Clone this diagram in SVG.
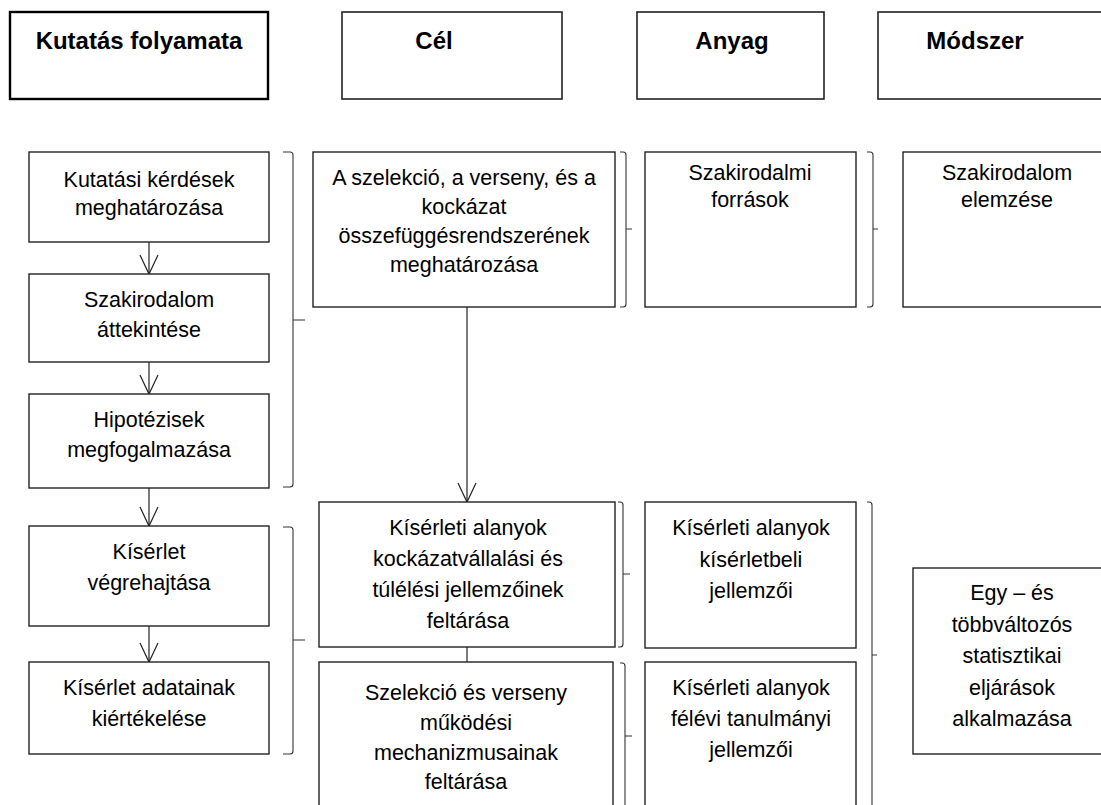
<svg xmlns="http://www.w3.org/2000/svg" width="1101" height="805" viewBox="0 0 1101 805">
<defs>
<style>
.hdr{fill:#fff;stroke:#222;stroke-width:1.6}
.hdr1{fill:#fff;stroke:#000;stroke-width:2.4}
.box{fill:#fff;stroke:#222;stroke-width:1.4}
.ht{font-family:"Liberation Sans",Arial,sans-serif;font-weight:bold;font-size:24px;fill:#000;text-anchor:middle}
.t{font-family:"Liberation Sans",Arial,sans-serif;font-size:21.5px;fill:#000;text-anchor:middle}
.br{fill:none;stroke:#333;stroke-width:1.1}
.ln{fill:none;stroke:#222;stroke-width:1.2}
</style>
<marker id="v" viewBox="0 0 22 22" refX="20" refY="11" markerWidth="22" markerHeight="22" markerUnits="userSpaceOnUse" orient="auto">
<path d="M1,2 L20,11 L1,20" fill="none" stroke="#222" stroke-width="1.2"/>
</marker>
</defs>
<rect width="1101" height="805" fill="#fff"/>

<g id="header-kutatas"><rect class="hdr1" x="10" y="12" width="258" height="87"/><text class="ht" x="139" y="49">Kutatás folyamata</text></g>
<g id="header-cel"><rect class="hdr" x="342" y="12" width="220" height="87"/><text class="ht" x="434" y="49">Cél</text></g>
<g id="header-anyag"><rect class="hdr" x="637" y="12" width="187" height="87"/><text class="ht" x="732" y="49">Anyag</text></g>
<g id="header-modszer"><rect class="hdr" x="878" y="12" width="240" height="87"/><text class="ht" x="975" y="49">Módszer</text></g>

<g id="connectors">
<line class="ln" x1="149" y1="242" x2="149" y2="274" marker-end="url(#v)"/>
<line class="ln" x1="149" y1="362" x2="149" y2="394" marker-end="url(#v)"/>
<line class="ln" x1="149" y1="488" x2="149" y2="526" marker-end="url(#v)"/>
<line class="ln" x1="149" y1="626" x2="149" y2="662" marker-end="url(#v)"/>
<line class="ln" x1="467" y1="307" x2="467" y2="502" marker-end="url(#v)"/>
<line class="ln" x1="467" y1="647" x2="467" y2="662"/>
</g>

<g id="brackets">
<path class="br" d="M283,152 H290 Q293,152 293,155 V320 H305 M293,320 V484 Q293,487 290,487 H283"/>
<path class="br" d="M283,527 H290 Q293,527 293,530 V640 H305 M293,640 V751 Q293,754 290,754 H283"/>
<path class="br" d="M620,152 H623 Q626,152 626,155 V229 H632 M626,229 V304 Q626,307 623,307 H620"/>
<path class="br" d="M867,152 H870 Q873,152 873,155 V229 H878 M873,229 V304 Q873,307 870,307 H867"/>
<path class="br" d="M618,502 H620 Q623,502 623,505 V574 H630 M623,574 V644 Q623,647 620,647 H618"/>
<path class="br" d="M620,663 H622 Q625,663 625,666 V736 H632 M625,736 V815"/>
<path class="br" d="M867,502 H869 Q872,502 872,505 V655 H877 M872,655 V815"/>
</g>

<g id="n-kerdesek"><rect class="box" x="29" y="152" width="240" height="90"/><text class="t" x="149" y="186.5">Kutatási kérdések</text><text class="t" x="149" y="215">meghatározása</text></g>
<g id="n-attekintes"><rect class="box" x="29" y="274" width="240" height="88"/><text class="t" x="149" y="306.5">Szakirodalom</text><text class="t" x="149" y="337">áttekintése</text></g>
<g id="n-hipotezis"><rect class="box" x="29" y="394" width="240" height="94"/><text class="t" x="149" y="427">Hipotézisek</text><text class="t" x="149" y="457">megfogalmazása</text></g>
<g id="n-kiserlet"><rect class="box" x="29" y="526" width="240" height="100"/><text class="t" x="149" y="559">Kísérlet</text><text class="t" x="149" y="590">végrehajtása</text></g>
<g id="n-kiertekeles"><rect class="box" x="29" y="662" width="240" height="92"/><text class="t" x="149" y="695">Kísérlet adatainak</text><text class="t" x="149" y="726">kiértékelése</text></g>

<g id="n-cel1"><rect class="box" x="313" y="152" width="302" height="155"/>
<text class="t" x="464" y="185">A szelekció, a verseny, és a</text><text class="t" x="464" y="214">kockázat</text><text class="t" x="464" y="243">összefüggésrendszerének</text><text class="t" x="464" y="272">meghatározása</text></g>
<g id="n-cel2"><rect class="box" x="319" y="502" width="296" height="145"/>
<text class="t" x="468" y="535">Kísérleti alanyok</text><text class="t" x="468" y="566">kockázatvállalási és</text><text class="t" x="468" y="597">túlélési jellemzőinek</text><text class="t" x="468" y="628">feltárása</text></g>
<g id="n-cel3"><rect class="box" x="319" y="662" width="294" height="160"/>
<text class="t" x="466" y="700">Szelekció és verseny</text><text class="t" x="466" y="730">működési</text><text class="t" x="466" y="760">mechanizmusainak</text><text class="t" x="466" y="789">feltárása</text></g>

<g id="n-anyag1"><rect class="box" x="645" y="152" width="211" height="155"/><text class="t" x="750" y="179.5">Szakirodalmi</text><text class="t" x="750" y="206.5">források</text></g>
<g id="n-anyag2"><rect class="box" x="645" y="502" width="211" height="146"/><text class="t" x="751" y="535">Kísérleti alanyok</text><text class="t" x="751" y="567">kísérletbeli</text><text class="t" x="751" y="598">jellemzői</text></g>
<g id="n-anyag3"><rect class="box" x="645" y="662" width="211" height="160"/><text class="t" x="751" y="695">Kísérleti alanyok</text><text class="t" x="751" y="726">félévi tanulmányi</text><text class="t" x="751" y="757">jellemzői</text></g>

<g id="n-modszer1"><rect class="box" x="903" y="152" width="220" height="155"/><text class="t" x="1007" y="179.5">Szakirodalom</text><text class="t" x="1007" y="206.5">elemzése</text></g>
<g id="n-modszer2"><rect class="box" x="913" y="568" width="210" height="186"/>
<text class="t" x="1012" y="600">Egy – és</text><text class="t" x="1012" y="631.5">többváltozós</text><text class="t" x="1012" y="663">statisztikai</text><text class="t" x="1012" y="694.5">eljárások</text><text class="t" x="1012" y="725.5">alkalmazása</text></g>
</svg>
